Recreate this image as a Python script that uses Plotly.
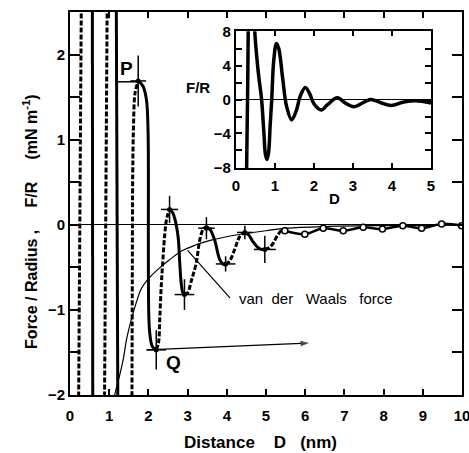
import plotly.graph_objects as go

# ---------------- data ----------------
# theoretical oscillatory curve, stable (solid) branches
solid_branches = [
    ([0.57, 0.58], [2.7, -2.1]),
    ([1.18, 1.22], [2.7, -2.1]),
    ([1.74, 1.86, 1.95, 1.99, 2.0, 2.0, 2.03, 2.1, 2.2],
     [1.69, 1.63, 1.47, 1.12, 0.5, -0.6, -1.25, -1.43, -1.47]),
    ([2.54, 2.62, 2.7, 2.76, 2.8, 2.84, 2.88, 2.92],
     [0.18, 0.14, 0.02, -0.15, -0.45, -0.7, -0.8, -0.82]),
    ([3.48, 3.58, 3.69, 3.82, 3.9, 3.97],
     [-0.02, -0.06, -0.18, -0.41, -0.46, -0.47]),
    ([4.46, 4.56, 4.67, 4.8, 4.9, 4.97],
     [-0.09, -0.12, -0.2, -0.27, -0.29, -0.29]),
]
# unstable (dashed) branches
dashed_branches = [
    ([0.22, 0.29], [-2.1, 2.7]),
    ([0.88, 0.95], [-2.1, 2.7]),
    ([1.58, 1.59, 1.6, 1.62, 1.66, 1.74], [-2.1, -0.5, 0.6, 1.15, 1.55, 1.69]),
    ([2.2, 2.26, 2.29, 2.33, 2.37, 2.42, 2.47, 2.54],
     [-1.47, -1.38, -1.1, -0.7, -0.41, -0.1, 0.08, 0.18]),
    ([2.92, 3.0, 3.1, 3.22, 3.31, 3.4, 3.48],
     [-0.82, -0.8, -0.65, -0.45, -0.18, -0.05, -0.02]),
    ([3.97, 4.08, 4.2, 4.33, 4.46], [-0.47, -0.42, -0.29, -0.14, -0.09]),
    ([4.97, 5.08, 5.18, 5.3, 5.44, 5.48], [-0.29, -0.27, -0.22, -0.12, -0.05, -0.07]),
]
# measured points with error bars
meas_x = [1.74, 2.2, 2.54, 2.92, 3.48, 3.97, 4.46, 4.97]
meas_y = [1.69, -1.47, 0.18, -0.82, -0.04, -0.46, -0.09, -0.29]
meas_ex = [0.2, 0.25, 0.22, 0.25, 0.21, 0.25, 0.2, 0.28]
meas_ey = [0.3, 0.23, 0.16, 0.18, 0.13, 0.09, 0.08, 0.16]
# measured tail (open circles)
tail_x = [5.48, 5.99, 6.46, 6.97, 7.48, 7.97, 8.49, 8.97, 9.48, 9.99]
tail_y = [-0.07, -0.11, -0.04, -0.07, -0.03, -0.05, -0.01, -0.04, 0.01, -0.01]
# van der Waals force curve
vdw_x = [1.1, 1.14, 1.25, 1.35, 1.45, 1.56, 1.7, 1.82, 2.05, 2.3, 2.54, 2.88,
         3.22, 3.6, 4.24, 5.0, 5.52, 6.5, 8.0, 10.0]
vdw_y = [-2.1, -2.0, -1.8, -1.6, -1.33, -1.12, -0.9, -0.75, -0.61, -0.5, -0.41, -0.3,
         -0.235, -0.18, -0.12, -0.07, -0.04, -0.02, -0.01, -0.005]
# jump from P inwards
p_jump_x = [1.2, 1.74]
p_jump_y = [1.68, 1.68]
# jump out from Q (arrow)
q_jump_x = [1.96, 6.1]
q_jump_y = [-1.47, -1.39]
# pointer to van der Waals curve
vdw_ptr_x = [3.0, 4.08]
vdw_ptr_y = [-0.3, -0.86]
# inset curve
ins_x = [0.26, 0.3, 0.36, 0.47, 0.5, 0.58, 0.66, 0.72, 0.76, 0.8, 0.84, 0.88, 0.92,
         0.97, 1.04, 1.1, 1.2, 1.3, 1.43, 1.55, 1.65, 1.78, 1.9, 2.0, 2.19, 2.35,
         2.6, 2.8, 3.03, 3.25, 3.46, 3.7, 3.98, 4.3, 4.6, 5.0]
ins_y = [-14, 0, 14, 9, 7, 3, 0, -4, -6.5, -7.05, -6.2, -3, 0,
         4.5, 6.6, 6.0, 2.5, -0.8, -2.4, -1.3, 0.4, 1.42, 0.6, -0.5, -1.23, -0.6,
         0.2, -0.4, -0.84, -0.4, 0.0, -0.35, -0.7, -0.3, -0.15, -0.4]

main_xticks = list(range(0, 11))
main_yticks = [-2, -1, 0, 1, 2]
main_yminor = [-1.5, -0.5, 0.5, 1.5]
ins_xticks = [0, 1, 2, 3, 4, 5]
ins_yticks = [-8, -4, 0, 4, 8]
ins_yminor = [-6, -2, 2, 6]

FONT = "Liberation Sans, Arial, sans-serif"

fig = go.Figure()

for bx, by in dashed_branches:
    fig.add_trace(go.Scatter(x=bx, y=by, mode="lines", line_shape="spline",
                             line=dict(color="black", width=3, dash="5px,2px"),
                             showlegend=False, hoverinfo="skip"))
for bx, by in solid_branches:
    fig.add_trace(go.Scatter(x=bx, y=by, mode="lines", line_shape="spline",
                             line=dict(color="black", width=3),
                             showlegend=False, hoverinfo="skip"))

fig.add_trace(go.Scatter(x=vdw_x, y=vdw_y, mode="lines", line_shape="spline",
                         line=dict(color="black", width=1.2), showlegend=False))
fig.add_trace(go.Scatter(x=vdw_ptr_x, y=vdw_ptr_y, mode="lines",
                         line=dict(color="black", width=1.2), showlegend=False))
fig.add_trace(go.Scatter(x=p_jump_x, y=p_jump_y, mode="lines",
                         line=dict(color="black", width=1.5), showlegend=False))
fig.add_trace(go.Scatter(x=q_jump_x, y=q_jump_y, mode="lines+markers",
                         line=dict(color="black", width=1.2),
                         marker=dict(symbol=["circle", "arrow"], size=[0, 9],
                                     angleref="previous", color="black",
                                     line=dict(width=0)),
                         showlegend=False))
fig.add_trace(go.Scatter(x=tail_x, y=tail_y, mode="lines+markers", line_shape="spline",
                         line=dict(color="black", width=2.5),
                         marker=dict(symbol="circle", size=6, color="white",
                                     line=dict(color="black", width=1.5)),
                         showlegend=False))
fig.add_trace(go.Scatter(x=meas_x, y=meas_y, mode="markers",
                         marker=dict(symbol="circle", size=5, color="black"),
                         error_x=dict(type="data", array=meas_ex, color="black",
                                      thickness=1.5, width=0),
                         error_y=dict(type="data", array=meas_ey, color="black",
                                      thickness=1.5, width=0),
                         showlegend=False))

fig.add_trace(go.Scatter(x=ins_x, y=ins_y, mode="lines", line_shape="spline",
                         line=dict(color="black", width=3.5),
                         xaxis="x2", yaxis="y2", showlegend=False))

axis_common = dict(showline=True, linecolor="black", linewidth=2, mirror="allticks",
                   ticks="inside", tickcolor="black", tickwidth=1.5, showgrid=False,
                   automargin=False,
                   tickfont=dict(family=FONT, size=15, color="black", weight="bold"))

fig.update_layout(
    width=469, height=453,
    margin=dict(l=70, r=7, t=12, b=58, autoexpand=False),
    paper_bgcolor="white", plot_bgcolor="white",
    xaxis=dict(range=[0, 10], tickvals=main_xticks, ticklen=6, zeroline=False,
               ticklabelstandoff=6, ticklabeloverflow="allow", **axis_common),
    yaxis=dict(range=[-2, 2.5], tickvals=main_yticks, ticklen=10,
               minor=dict(tickvals=main_yminor, ticks="inside", ticklen=10,
                          tickwidth=1.5, tickcolor="black", showgrid=False),
               zeroline=True, zerolinecolor="black", zerolinewidth=1.2,
               **axis_common),
    xaxis2=dict(domain=[0.423, 0.921], anchor="y2", range=[0, 5], tickvals=ins_xticks,
                ticklen=5, zeroline=False, ticklabelstandoff=3, **axis_common),
    yaxis2=dict(domain=[0.593, 0.950], anchor="x2", range=[-8.05, 8.05],
                tickvals=ins_yticks, ticklen=6,
                minor=dict(tickvals=ins_yminor, ticks="inside", ticklen=6,
                           tickwidth=1.5, tickcolor="black", showgrid=False),
                zeroline=True, zerolinecolor="black", zerolinewidth=1.2, **axis_common),
)

ann_font = dict(family=FONT, color="black", weight="bold")
fig.add_annotation(x=4.25, y=-0.87, xref="x", yref="y", xanchor="left", yanchor="middle",
                   text="van&nbsp;&nbsp;der&nbsp;&nbsp;&nbsp;Waals&nbsp;&nbsp;&nbsp;force",
                   showarrow=False,
                   font=dict(family=FONT, size=15, color="black"))
fig.add_annotation(x=1.43, y=1.84, xref="x", yref="y", text="P", showarrow=False,
                   xanchor="center", yanchor="middle", font=dict(size=19, **ann_font))
fig.add_annotation(x=2.63, y=-1.62, xref="x", yref="y", text="Q", showarrow=False,
                   xanchor="center", yanchor="middle", font=dict(size=19, **ann_font))
fig.add_annotation(x=0.485, y=-0.123, xref="paper", yref="paper",
                   xanchor="center", yanchor="middle",
                   text="Distance&nbsp;&nbsp;&nbsp; D&nbsp;&nbsp; (nm)", showarrow=False,
                   font=dict(size=17, **ann_font))
fig.add_annotation(x=-0.102, y=0.452, xref="paper", yref="paper", textangle=-90,
                   xanchor="center", yanchor="middle",
                   text="Force / Radius ,&nbsp;&nbsp;&nbsp;&nbsp; F/R&nbsp;&nbsp;&nbsp;&nbsp; (mN m<sup>-1</sup>)",
                   showarrow=False, font=dict(size=16, **ann_font))
fig.add_annotation(x=0.327, y=0.802, xref="paper", yref="paper", text="F/R",
                   xanchor="center", yanchor="middle",
                   showarrow=False, font=dict(size=15, **ann_font))
fig.add_annotation(x=0.676, y=0.514, xref="paper", yref="paper", text="D",
                   xanchor="center", yanchor="middle",
                   showarrow=False, font=dict(size=15, **ann_font))

fig.write_html("out.html")
